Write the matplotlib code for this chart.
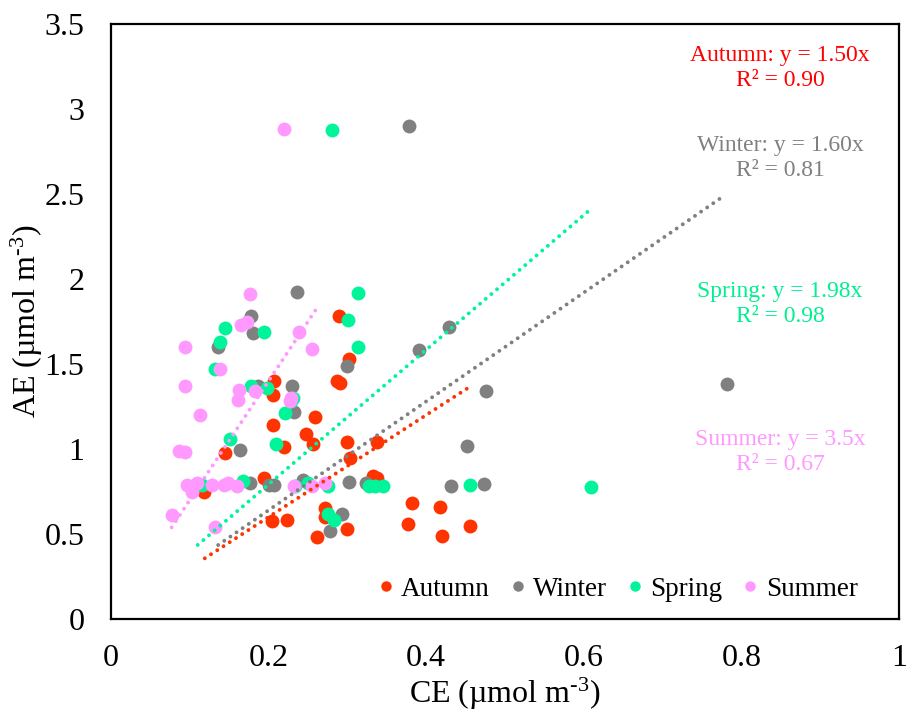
import numpy as np
import matplotlib
matplotlib.use("Agg")
import matplotlib.pyplot as plt

plt.rcParams['font.family'] = ['Liberation Serif', 'DejaVu Serif']
plt.rcParams['mathtext.fontset'] = 'custom'
plt.rcParams['mathtext.rm'] = 'Liberation Serif'
plt.rcParams['mathtext.it'] = 'Liberation Serif:italic'

# CE / AE pairs per season
autumn_ce = [0.207, 0.206, 0.259, 0.205, 0.248, 0.256, 0.220, 0.145, 0.118, 0.194,
             0.204, 0.223, 0.261, 0.271, 0.272, 0.289, 0.302, 0.290, 0.287, 0.299,
             0.337, 0.303, 0.337, 0.333, 0.299, 0.382, 0.417, 0.377, 0.420, 0.455]
autumn_ae = [1.40, 1.32, 1.19, 1.14, 1.09, 1.03, 1.01, 0.975, 0.75, 0.83,
             0.576, 0.58, 0.48, 0.655, 0.60, 1.78, 1.53, 1.39, 1.40, 1.04,
             1.04, 0.95, 0.83, 0.84, 0.53, 0.68, 0.66, 0.56, 0.49, 0.55]

winter_ce = [0.236, 0.178, 0.180, 0.136, 0.186, 0.230, 0.232, 0.164, 0.176, 0.200,
             0.207, 0.244, 0.302, 0.323, 0.299, 0.429, 0.391, 0.476, 0.452, 0.431,
             0.473, 0.293, 0.278, 0.378, 0.782]
winter_ae = [1.925, 1.78, 1.68, 1.60, 1.37, 1.37, 1.22, 0.997, 0.80, 0.79,
             0.79, 0.82, 0.805, 0.80, 1.49, 1.72, 1.58, 1.34, 1.02, 0.785,
             0.795, 0.62, 0.52, 2.90, 1.38]

spring_ce = [0.281, 0.314, 0.301, 0.313, 0.145, 0.194, 0.138, 0.132, 0.178, 0.198,
             0.231, 0.228, 0.221, 0.210, 0.151, 0.115, 0.167, 0.250, 0.233, 0.275,
             0.276, 0.283, 0.327, 0.335, 0.345, 0.456, 0.609]
spring_ae = [2.876, 1.915, 1.76, 1.60, 1.71, 1.69, 1.63, 1.47, 1.37, 1.36,
             1.30, 1.28, 1.21, 1.03, 1.06, 0.79, 0.81, 0.80, 0.78, 0.78,
             0.62, 0.58, 0.785, 0.785, 0.785, 0.79, 0.776]

summer_ce = [0.219, 0.177, 0.165, 0.172, 0.239, 0.094, 0.255, 0.138, 0.094, 0.162,
             0.161, 0.183, 0.227, 0.113, 0.086, 0.094, 0.096, 0.109, 0.103, 0.128,
             0.143, 0.149, 0.160, 0.232, 0.255, 0.271, 0.078, 0.132, 0.228]
summer_ae = [2.88, 1.913, 1.73, 1.75, 1.69, 1.60, 1.59, 1.47, 1.37, 1.35,
             1.29, 1.34, 1.28, 1.20, 0.99, 0.98, 0.79, 0.80, 0.75, 0.79,
             0.79, 0.80, 0.78, 0.785, 0.785, 0.80, 0.61, 0.54, 1.30]

seasons = ['Autumn', 'Winter', 'Spring', 'Summer']
point_colors = ['#FF3300', '#808080', '#00F59B', '#FF99FF']
text_colors = ['#FF0000', '#808080', '#00F090', '#FF99FF']
slopes = [1.50, 1.60, 1.98, 3.5]
slope_labels = ['1.50', '1.60', '1.98', '3.5']
r2 = ['0.90', '0.81', '0.98', '0.67']
trend_start = [0.119, 0.136, 0.110, 0.077]
trend_end = [0.455, 0.777, 0.611, 0.261]
label_y = [68, 158, 304, 452]   # label centre, pixels from top

ce = [autumn_ce, winter_ce, spring_ce, summer_ce]
ae = [autumn_ae, winter_ae, spring_ae, summer_ae]

W, H = 906, 712
fig = plt.figure(figsize=(W / 100, H / 100), dpi=100)
ax = fig.add_axes([111 / W, 1 - 619 / H, 788 / W, 595 / H])

for i in range(4):
    ax.plot(ce[i], ae[i], 'o', ms=10, color=point_colors[i], mec='none',
            label=seasons[i], zorder=3)

# trend lines, drawn at twice the fitted slope
for i in range(4):
    x = np.array([trend_start[i], trend_end[i]])
    ax.plot(x, 2 * slopes[i] * x, color=point_colors[i], lw=2.8,
            linestyle=(0, (0.01, 1.9)), dash_capstyle='round', zorder=4)

for i in range(4):
    yf = 1 - label_y[i] / H
    fig.text(780 / W, yf + 13 / H, f'{seasons[i]}: y = {slope_labels[i]}x',
             color=text_colors[i], fontsize=17, ha='center', va='center')
    fig.text(780 / W, yf - 13 / H, f'R² = {r2[i]}',
             color=text_colors[i], fontsize=17, ha='center', va='center')

ax.set_xlim(0, 1)
ax.set_ylim(0, 3.5)
ax.set_xticks([0, 0.2, 0.4, 0.6, 0.8, 1])
ax.set_xticklabels(['0', '0.2', '0.4', '0.6', '0.8', '1'])
ax.set_yticks([0, 0.5, 1, 1.5, 2, 2.5, 3, 3.5])
ax.set_yticklabels(['0', '0.5', '1', '1.5', '2', '2.5', '3', '3.5'])
ax.tick_params(length=0, labelsize=23)
ax.tick_params(axis='y', pad=19)
ax.tick_params(axis='x', pad=18)
for s in ax.spines.values():
    s.set_linewidth(1.6)

unit = r'(µmol m$^{\mathrm{\text{-}3}}$)'
ax.set_xlabel('CE ' + unit, fontsize=23, labelpad=2)
ax.set_ylabel('AE ' + unit, fontsize=23, labelpad=0)

ax.legend(loc='center right', bbox_to_anchor=(0.965, 0.05), ncol=4, frameon=False,
          fontsize=19.5, markerscale=0.75, handlelength=0.55, handletextpad=0.3,
          columnspacing=0.75, borderpad=0)

fig.savefig('out.png', dpi=100)
